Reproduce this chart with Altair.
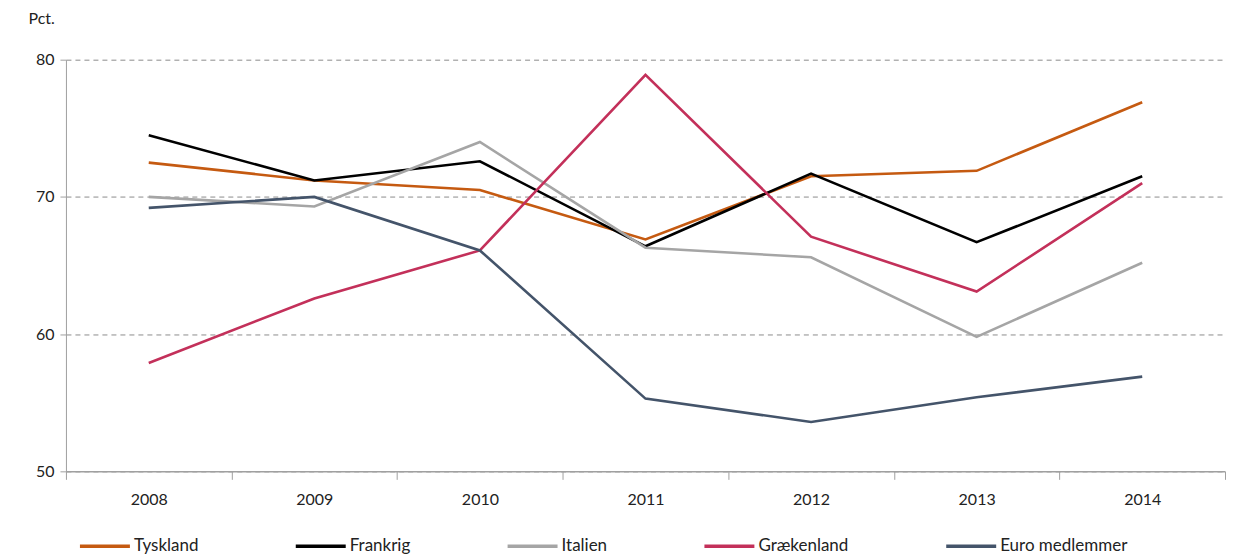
import altair as alt
import pandas as pd

years = ["2008", "2009", "2010", "2011", "2012", "2013", "2014"]
series_names = ["Tyskland", "Frankrig", "Italien", "Grækenland", "Euro medlemmer"]
tyskland = [72.5, 71.2, 70.5, 66.9, 71.5, 71.9, 76.9]
frankrig = [74.5, 71.2, 72.6, 66.4, 71.7, 66.7, 71.5]
italien = [70.0, 69.3, 74.0, 66.3, 65.6, 59.8, 65.2]
graekenland = [57.9, 62.6, 66.1, 78.9, 67.1, 63.1, 71.0]
euro = [69.2, 70.0, 66.1, 55.3, 53.6, 55.4, 56.9]
colors = ["#C55A11", "#000000", "#A5A5A5", "#C3305A", "#44546A"]

values = [tyskland, frankrig, italien, graekenland, euro]
rows = []
for name, vals in zip(series_names, values):
    for yr, v in zip(years, vals):
        rows.append({"År": yr, "Serie": name, "Værdi": v})
df = pd.DataFrame(rows)

FONT = "Lato"

chart = alt.Chart(df).mark_line(strokeWidth=2.6).encode(
    x=alt.X("År:N", sort=years, title=None,
            scale=alt.Scale(paddingInner=0, paddingOuter=0),
            axis=alt.Axis(labelAngle=0, tickBand="extent", tickSize=8,
                          tickColor="#A0A0A0", domainColor="#A0A0A0",
                          domainWidth=1.5, labelPadding=12, labelFontSize=16,
                          labelColor="#222222", labelFont=FONT, grid=False)),
    y=alt.Y("Værdi:Q", title="Pct.",
            scale=alt.Scale(domain=[50, 80], nice=False, zero=False),
            axis=alt.Axis(values=[50, 60, 70, 80], tickSize=6,
                          tickColor="#A0A0A0", domainColor="#A0A0A0",
                          labelFontSize=16, labelColor="#222222", labelFont=FONT,
                          labelPadding=6,
                          grid=True, gridDash=[5, 4], gridColor="#8C8C8C",
                          gridWidth=1,
                          titleAngle=0, titleAlign="left", titleBaseline="middle",
                          titleX=-38, titleY=-41, titleFontSize=16,
                          titleFontWeight="normal", titleColor="#222222",
                          titleFont=FONT)),
    color=alt.Color("Serie:N", sort=series_names,
                    scale=alt.Scale(domain=series_names, range=colors),
                    legend=alt.Legend(title=None, orient="none",
                                      direction="horizontal",
                                      legendX=12, legendY=460,
                                      symbolType="stroke", symbolSize=2500,
                                      symbolStrokeWidth=3.5, labelOffset=2,
                                      columnPadding=90, labelFontSize=17,
                                      labelFont=FONT, labelColor="#222222")),
    order=alt.Order("År:N"),
).properties(
    width=1160,
    height=412,
    padding={"left": 20, "top": 2.5, "right": 0, "bottom": 0},
).configure_view(stroke=None)

chart.save("out.html", embed_options={"renderer": "svg", "actions": False})
